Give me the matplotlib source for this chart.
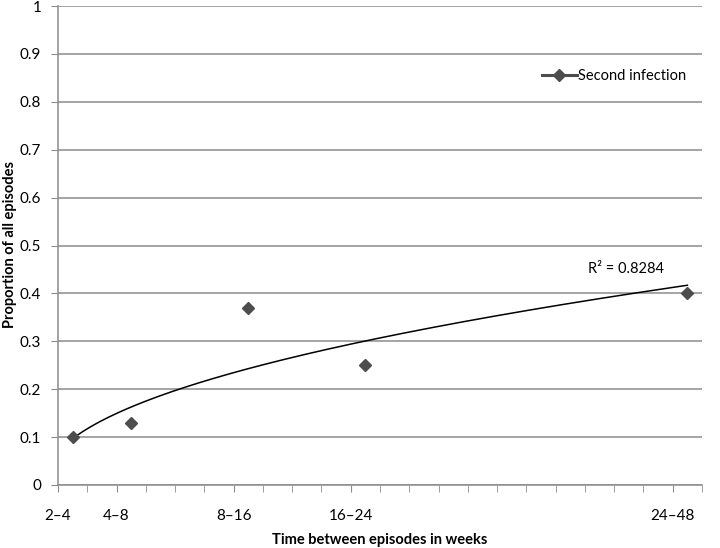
import numpy as np
import matplotlib
matplotlib.use("Agg")
import matplotlib.pyplot as plt

# Data
categories = ["2\u20134", "4\u20138", "8\u201316", "16\u201324", "24\u201348"]
cat_index = [1, 3, 7, 11, 22]          # position on the 22-slot category axis
n_slots = 22
proportion = [0.10, 0.13, 0.37, 0.25, 0.40]
series_name = "Second infection"
y_ticks = [0, 0.1, 0.2, 0.3, 0.4, 0.5, 0.6, 0.7, 0.8, 0.9, 1]
y_tick_labels = ["0", "0.1", "0.2", "0.3", "0.4", "0.5", "0.6", "0.7", "0.8", "0.9", "1"]

plt.rcParams['font.family'] = ['Lato', 'DejaVu Sans']

fig = plt.figure(figsize=(7.2, 5.48), dpi=100)
ax = fig.add_axes([58/720, 1-485/548, (702-58)/720, (485-6)/548])

grid_c = "#8c8c8c"
x = np.array(cat_index, dtype=float)
y = np.array(proportion)

# power trendline (Excel style)
p, lnc = np.polyfit(np.log(x), np.log(y), 1)
xs = np.linspace(x.min(), x.max(), 300)
ys = np.exp(lnc) * xs ** p
ly = np.log(y)
r2 = 1 - np.sum((ly - (lnc + p*np.log(x)))**2) / np.sum((ly - ly.mean())**2)

ax.plot(xs, ys, color="black", lw=1.1, zorder=3)
ax.plot(x, y, linestyle="none", marker="D", ms=6.3, color="#4d4d4d",
        zorder=4)

# legend handle (line with diamond)
leg_handle, = ax.plot([], [], color="#4d4d4d", lw=2.2, marker="D", ms=6.3)
leg = ax.legend([leg_handle], [series_name], loc="upper left",
                bbox_to_anchor=((536-58)/644, 1-(63-6)/479), frameon=False,
                handlelength=2.4, handletextpad=0.05, fontsize=10.5,
                borderaxespad=0)

ax.annotate(f"R\u00b2 = {r2:.4f}", xy=((626-58)/644, 1-(269-6)/479),
            xycoords="axes fraction", ha="center", va="center", fontsize=10.5)

ax.set_xlim(0.5, n_slots + 0.5)
ax.set_ylim(0, 1)
ax.set_yticks(y_ticks)
ax.set_yticklabels(y_tick_labels, fontsize=11)
ax.yaxis.grid(True, color=grid_c, lw=1.1)
ax.set_axisbelow(True)

label_pos = [c - 0.5 for c in cat_index]
ax.set_xticks(label_pos)
ax.set_xticklabels(categories, fontsize=11)
ax.set_xticks(np.arange(0.5, n_slots + 1, 1), minor=True)
ax.tick_params(axis="x", which="both", direction="out", length=5,
               color=grid_c, pad=12)
ax.tick_params(axis="y", direction="out", length=5, color=grid_c, pad=7)

for s in ["top", "right"]:
    ax.spines[s].set_visible(False)
for s in ["left", "bottom"]:
    ax.spines[s].set_color(grid_c)
    ax.spines[s].set_linewidth(1.1)

fig.text(380/720, 1-540/548, "Time between episodes in weeks",
         ha="center", va="center", fontsize=10.5, fontweight="bold")
fig.text(10/720, 1-245/548, "Proportion of all episodes", rotation=90,
         ha="center", va="center", fontsize=10.5, fontweight="bold")

fig.savefig("out.png", dpi=100)
